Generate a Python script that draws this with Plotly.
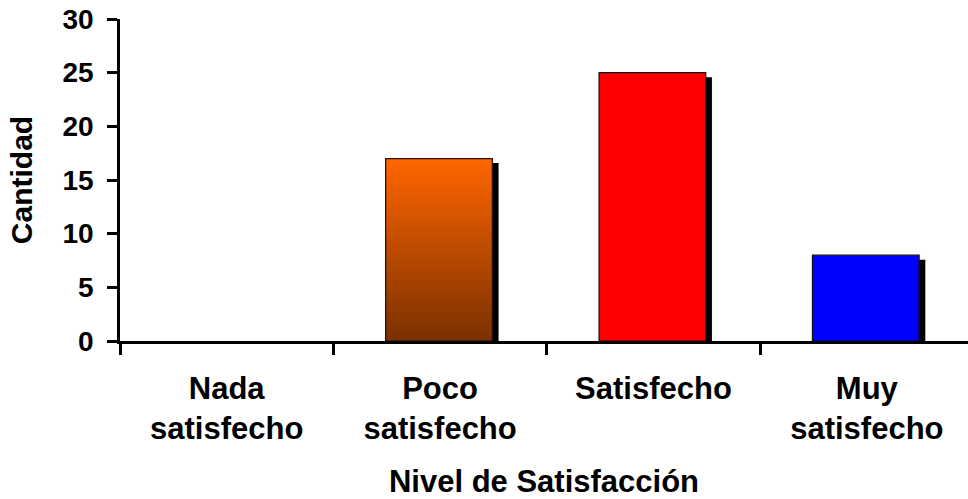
import plotly.graph_objects as go

# ---- data ----
categories = ["Nada<br>satisfecho", "Poco<br>satisfecho", "Satisfecho", "Muy<br>satisfecho"]
values = [0, 17, 25, 8]
bar_colors = ["#FF6600", "#FF6600", "#FF0000", "#0000FF"]
y_ticks = [0, 5, 10, 15, 20, 25, 30]
x_title = "Nivel de Satisfacción"
y_title = "Cantidad"

# ---- style ----
FONT = "Liberation Sans, Arial, sans-serif"
BAR_W = 0.5
SH_DX = 0.029   # shadow shift in category units
SH_DY = 0.42    # shadow drop in value units
X_MAX = 3.474
gradient_index = 1

fig = go.Figure()

# shadows
fig.add_trace(go.Bar(
    x=categories, y=[max(v - SH_DY, 0) for v in values],
    width=BAR_W, offset=-BAR_W / 2 + SH_DX - 0.005,
    marker=dict(color="black", line=dict(width=0)),
    hoverinfo="skip", showlegend=False,
))
# bars
fig.add_trace(go.Bar(
    x=categories, y=values,
    width=BAR_W, offset=-BAR_W / 2 - 0.005,
    marker=dict(color=bar_colors,
                line=dict(color="#111111", width=[1.2 if v > 0 else 0 for v in values])),
    showlegend=False,
))
# gradient overlay for the "Poco satisfecho" bar
gi = gradient_index
gv = values[gi]
x0 = gi - BAR_W / 2 - 0.005
x1 = gi + BAR_W / 2 - 0.005
fig.add_trace(go.Scatter(
    x=[x0, x1, x1, x0, x0], y=[0, 0, gv, gv, 0],
    xaxis="x2", yaxis="y",
    mode="lines", fill="toself",
    fillgradient=dict(type="vertical",
                      colorscale=[[0, "#7A3000"], [1, "#FF6600"]]),
    line=dict(color="#2a1000", width=1.2),
    hoverinfo="skip", showlegend=False,
))

fig.update_layout(
    width=968, height=499,
    margin=dict(l=120, r=0, t=19, b=158),
    paper_bgcolor="white", plot_bgcolor="white",
    barmode="overlay",
    font=dict(family=FONT, color="black", size=28, weight="bold"),
    xaxis=dict(
        type="category", range=[-0.5, X_MAX],
        tickson="boundaries", ticks="outside", ticklen=11, tickwidth=2.5,
        tickcolor="black", showline=True, linecolor="black", linewidth=2.5,
        showgrid=False, zeroline=False,
        tickfont=dict(family=FONT, size=31, weight="bold"),
        ticklabelstandoff=18,
        title=dict(text=x_title, font=dict(family=FONT, size=31, weight="bold"),
                   standoff=29),
    ),
    xaxis2=dict(
        overlaying="x", anchor="y", range=[-0.5, X_MAX], visible=False,
    ),
    yaxis=dict(
        range=[0, 30], tickvals=y_ticks, ticks="outside", ticklen=10,
        tickwidth=2.5, tickcolor="black", showline=True, linecolor="black",
        linewidth=2.5, showgrid=False, zeroline=False,
        tickfont=dict(family=FONT, size=28, weight="bold"),
        ticklabelstandoff=8,
        title=dict(text=y_title, font=dict(family=FONT, size=30, weight="bold"),
                   standoff=21),
    ),
)

fig.write_html("out.html")
